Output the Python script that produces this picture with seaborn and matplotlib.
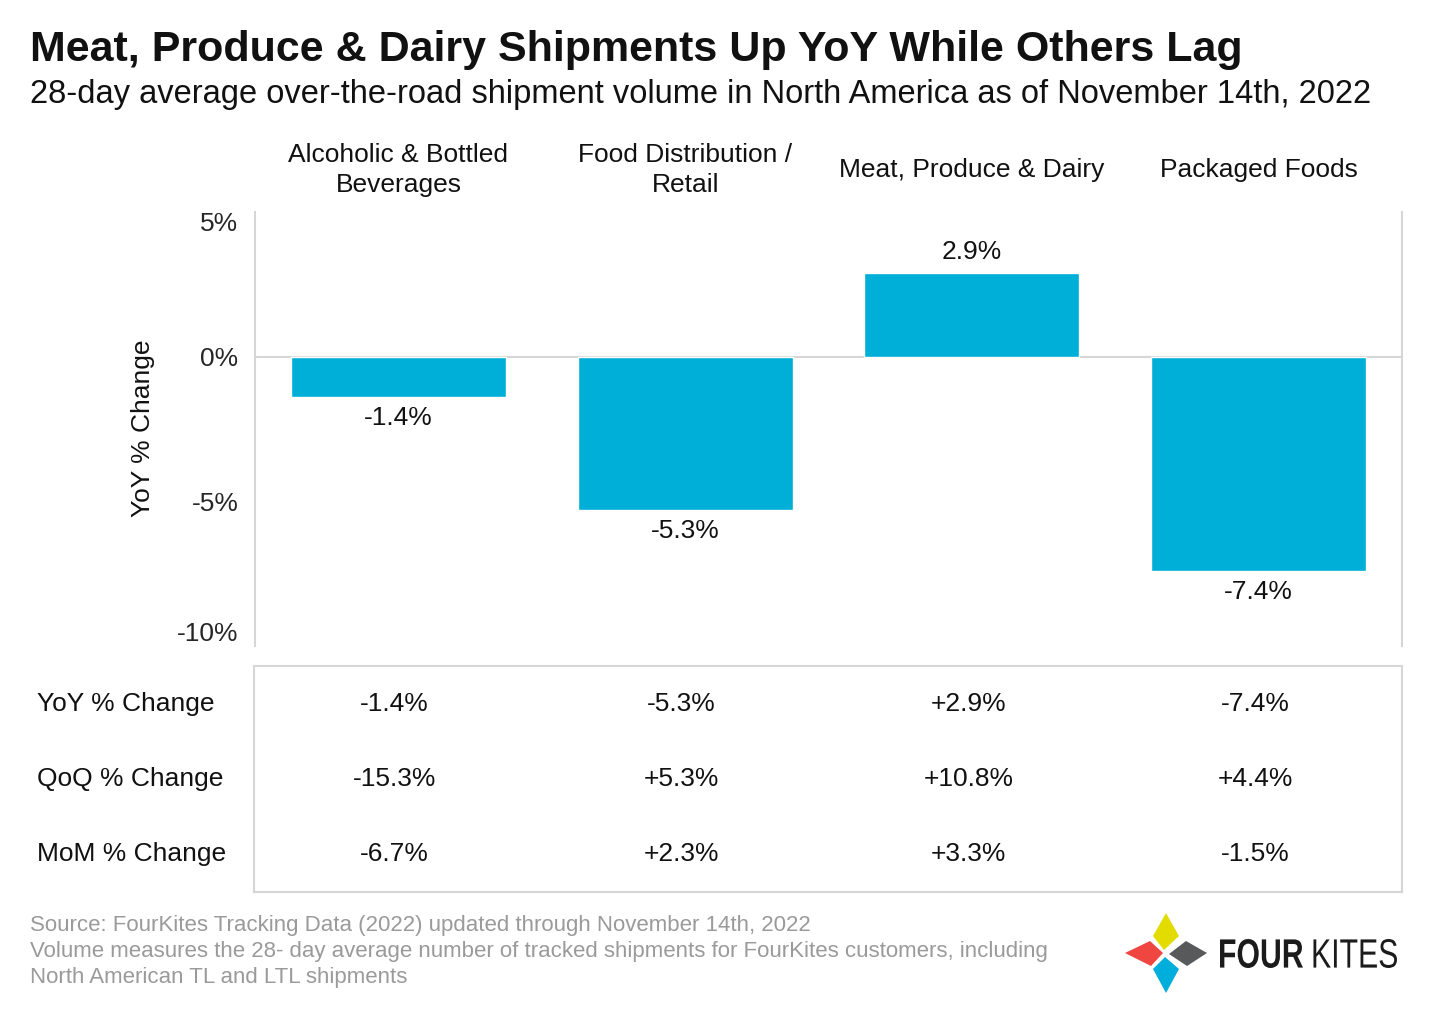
import numpy as np
import pandas as pd
import matplotlib.pyplot as plt
import seaborn as sns
from matplotlib.textpath import TextPath
from matplotlib.font_manager import FontProperties
from matplotlib.patches import Polygon, PathPatch
from matplotlib.path import Path

sns.set_theme(style="white")
plt.rcParams['font.family'] = ['Liberation Sans', 'DejaVu Sans']

# data
categories = ["Alcoholic & Bottled\nBeverages", "Food Distribution /\nRetail",
              "Meat, Produce & Dairy", "Packaged Foods"]
yoy = [-1.4, -5.3, 2.9, -7.4]
row_names = ["YoY % Change", "QoQ % Change", "MoM % Change"]
yoy_txt = ["-1.4%", "-5.3%", "+2.9%", "-7.4%"]
qoq_txt = ["-15.3%", "+5.3%", "+10.8%", "+4.4%"]
mom_txt = ["-6.7%", "+2.3%", "+3.3%", "-1.5%"]
yticks = [5, 0, -5, -10]
ytick_labels = ["5%", "0%", "-5%", "-10%"]

W, H = 1431, 1023
bar_color = "#00AFD7"
grey_line = "#d6d6d6"
fs = 19

fig = plt.figure(figsize=(W / 100, H / 100), dpi=100)

def fx(px):
    return px / W

def fy(py):
    return 1 - py / H

# main bar chart
ax = fig.add_axes([fx(255), fy(646), fx(1402) - fx(255), fy(212) - fy(646)])
df = pd.DataFrame({"cat": categories, "yoy": yoy})
sns.barplot(data=df, x="cat", y="yoy", color=bar_color, saturation=1,
            width=0.75, ax=ax)
ax.set_xlim(-0.5, 3.5)
ax.set_ylim(-10, 5)
ax.axhline(0, color=grey_line, lw=1.5, zorder=0)
ax.set_xlabel("")
ax.set_ylabel("")
ax.set_xticks([])
ax.set_yticks(yticks)
ax.set_yticklabels(ytick_labels, fontsize=fs)
ax.tick_params(axis="y", length=0, pad=12)
labs = ax.get_yticklabels()
labs[0].set_va("top")
labs[-1].set_va("bottom")
for s in ["top", "bottom"]:
    ax.spines[s].set_visible(False)
for s in ["left", "right"]:
    ax.spines[s].set_color(grey_line)
    ax.spines[s].set_linewidth(1.5)

for i, v in enumerate(yoy):
    off = 15 if v > 0 else -15
    ax.annotate(f"{v:.1f}%", (i, v), xytext=(0, off), textcoords="offset points",
                ha="center", va="center", fontsize=fs, color="#111111")

trans = ax.get_xaxis_transform()
for i, c in enumerate(categories):
    ax.text(i, 1.097, c, transform=trans, ha="center", va="center",
            fontsize=fs, linespacing=1.35, color="#111111")

fig.text(fx(143), fy(428), "YoY % Change", rotation=90, ha="center",
         va="center", fontsize=fs, color="#111111")

# table below
tab = fig.add_axes([fx(254), fy(892), fx(1402) - fx(254), fy(666) - fy(892)])
tab.set_xlim(-0.5, 3.5)
tab.set_ylim(0, 1)
tab.set_xticks([])
tab.set_yticks([])
for s in tab.spines.values():
    s.set_color(grey_line)
    s.set_linewidth(1.5)
row_y = [0.83, 0.498, 0.166]
for r, vals in enumerate([yoy_txt, qoq_txt, mom_txt]):
    for i, t in enumerate(vals):
        tab.text(i - 0.01, row_y[r], t, ha="center", va="center",
                 fontsize=fs, color="#111111")
    fig.text(fx(37), fy(666 + (1 - row_y[r]) * 226), row_names[r],
             ha="left", va="center", fontsize=fs, color="#111111")

# titles
fig.text(fx(30), fy(50), "Meat, Produce & Dairy Shipments Up YoY While Others Lag",
         ha="left", va="center", fontsize=31, fontweight="bold", color="#111111")
fig.text(fx(30), fy(94),
         "28-day average over-the-road shipment volume in North America as of November 14th, 2022",
         ha="left", va="center", fontsize=23.5, color="#111111")

# footer
footer = ["Source: FourKites Tracking Data (2022) updated through November 14th, 2022",
          "Volume measures the 28- day average number of tracked shipments for FourKites customers, including",
          "North American TL and LTL shipments"]
for k, line in enumerate(footer):
    fig.text(fx(30), fy(925 + 26.5 * k), line, ha="left", va="center",
             fontsize=16, color="#9a9a9a")

# logo
lg = fig.add_axes([0, 0, 1, 1])
lg.set_xlim(0, W)
lg.set_ylim(H, 0)
lg.axis("off")
kites = [
    ([(1166, 913), (1153, 936), (1164, 950), (1179, 936)], "#E2DC00"),
    ([(1169, 954), (1186, 941), (1207, 953), (1187, 966)], "#58595B"),
    ([(1125, 953), (1150, 941), (1163, 953), (1151, 966)], "#EF4641"),
    ([(1165, 957), (1153, 969), (1166, 993), (1179, 969)], "#00AEDB"),
]
for pts, col in kites:
    lg.add_patch(Polygon(pts, closed=True, facecolor=col, edgecolor="none"))

def word(txt, x0, x1, y_top, y_bot, weight):
    tp = TextPath((0, 0), txt, size=1, prop=FontProperties(family="Liberation Sans", weight=weight))
    v = tp.vertices.copy()
    xmin, ymin = v.min(axis=0)
    xmax, ymax = v.max(axis=0)
    v[:, 0] = x0 + (v[:, 0] - xmin) / (xmax - xmin) * (x1 - x0)
    v[:, 1] = y_bot - (v[:, 1] - ymin) / (ymax - ymin) * (y_bot - y_top)
    lg.add_patch(PathPatch(Path(v, tp.codes), facecolor="#1b1b1b", edgecolor="none"))

word("FOUR", 1218, 1303, 939, 968, "bold")
word("KITES", 1311, 1397, 939, 968, "normal")

fig.savefig("out.png", dpi=100)
